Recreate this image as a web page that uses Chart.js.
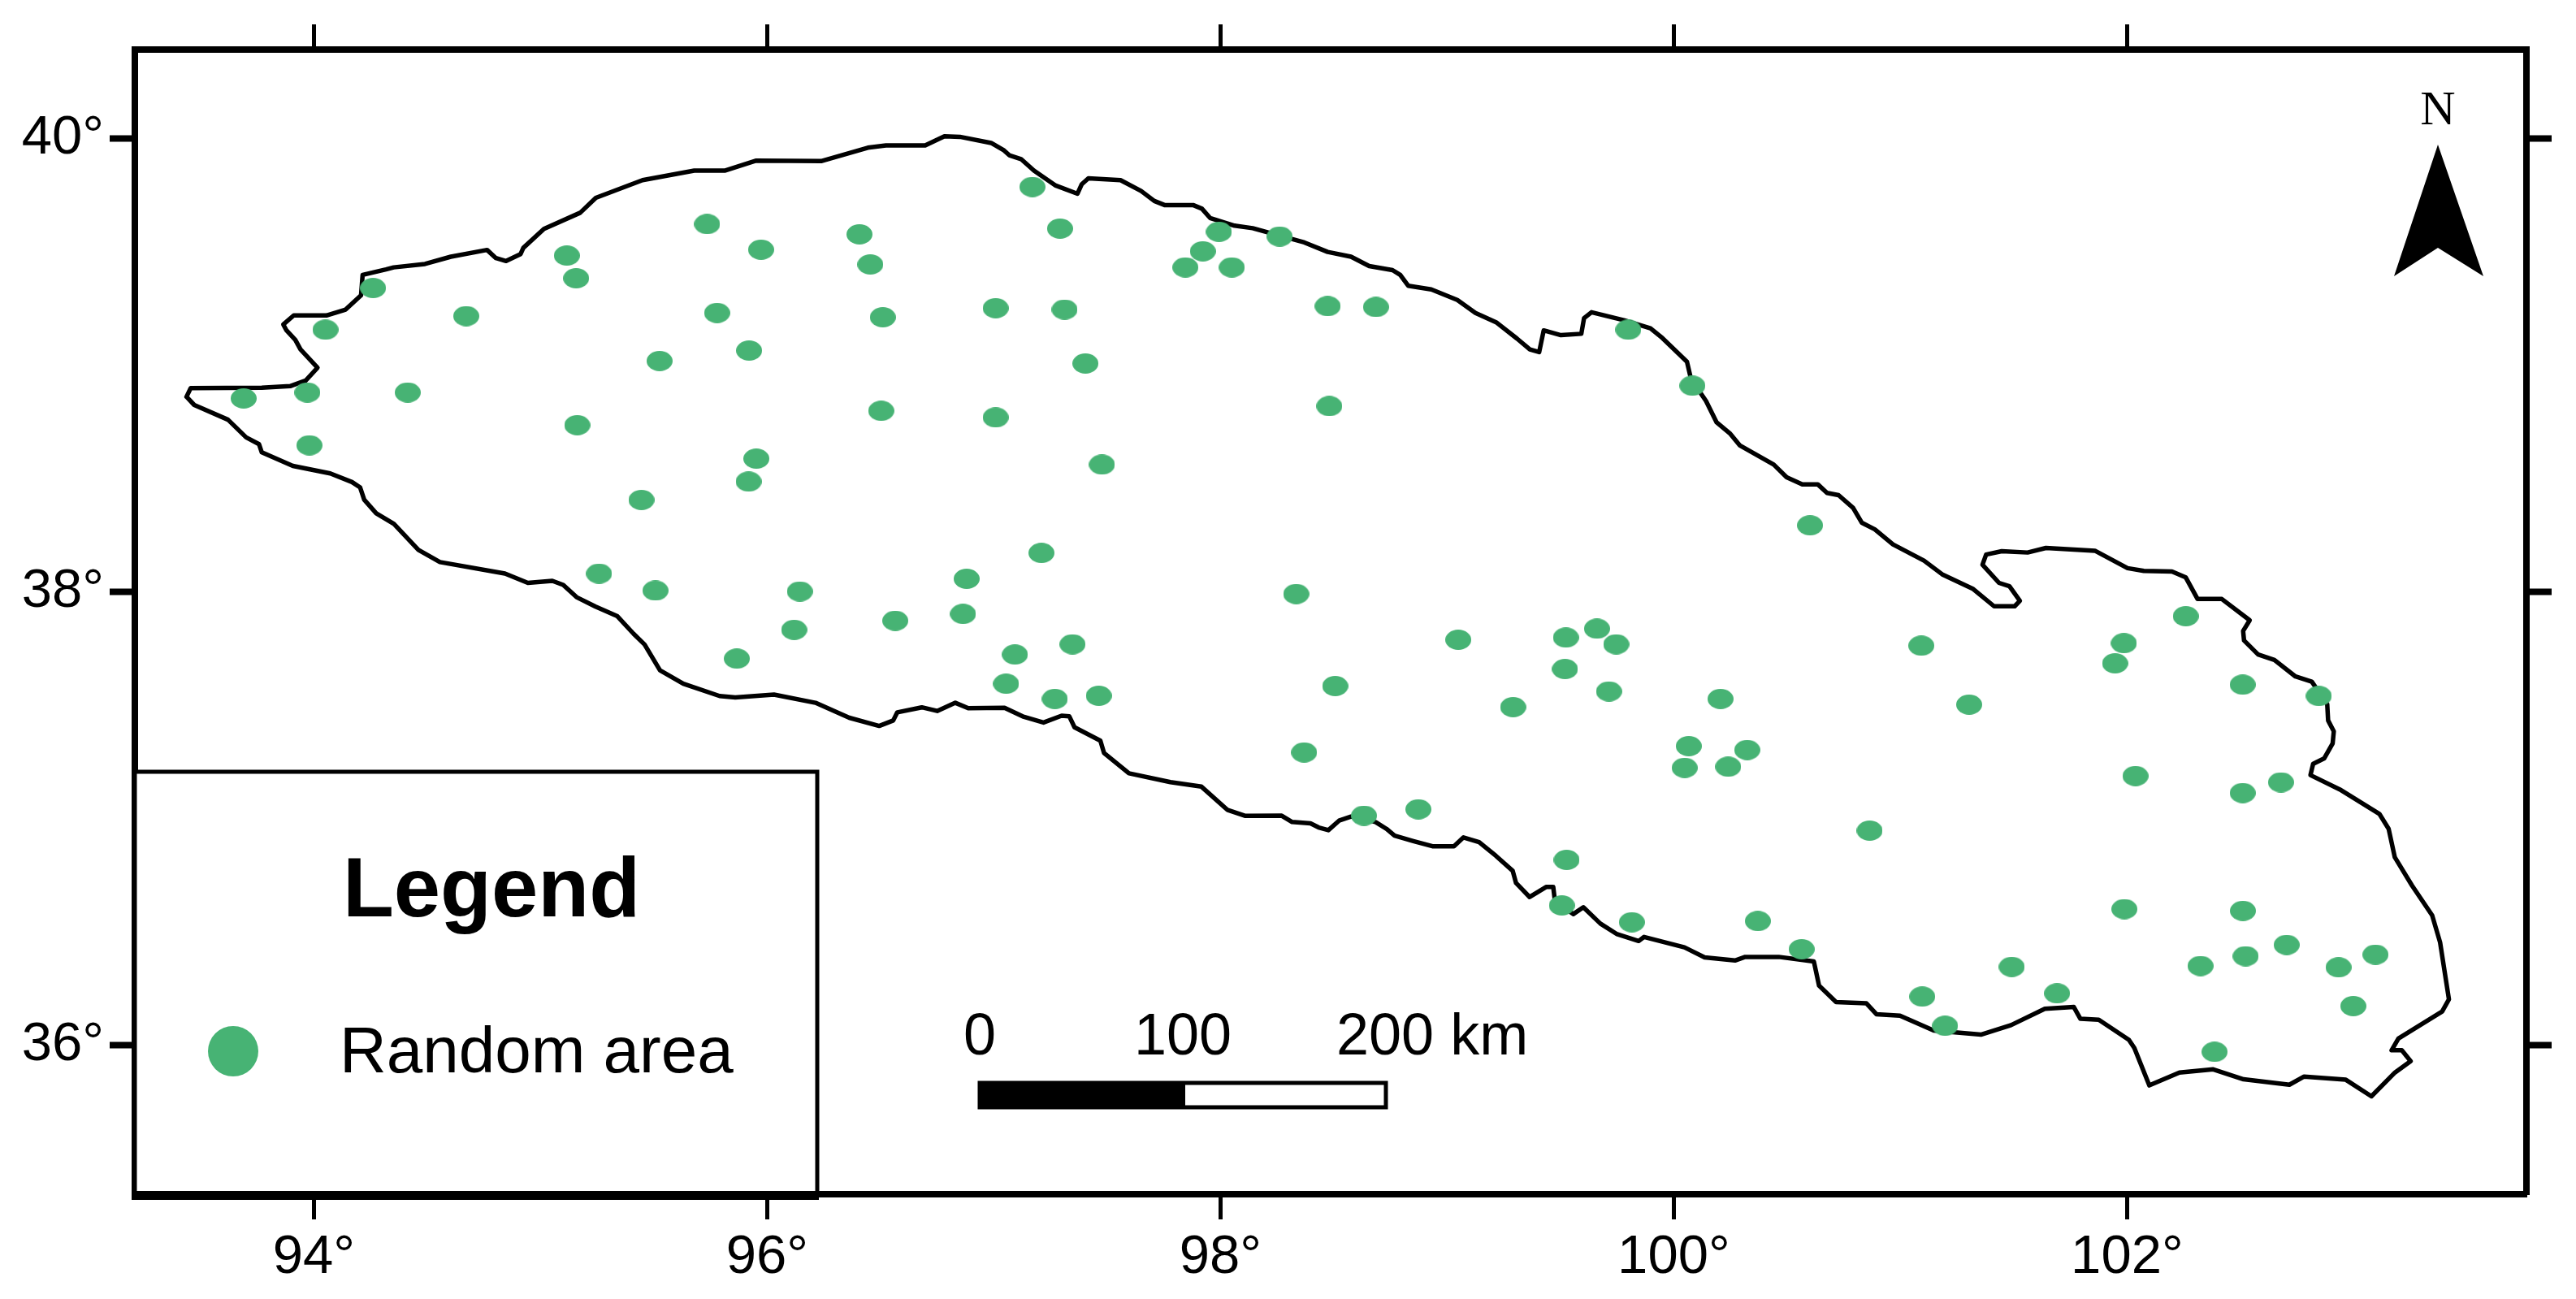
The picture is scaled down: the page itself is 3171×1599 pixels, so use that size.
<!DOCTYPE html>
<html>
<head>
<meta charset="utf-8">
<title>Random area map</title>
<script src="https://cdn.jsdelivr.net/npm/chart.js@4/dist/chart.umd.min.js"></script>
<style>
    html, body { margin: 0; padding: 0; background: #fff; }
    canvas { display: block; }
</style>
</head>
<body>
<canvas id="myChart" width="3171" height="1599"></canvas>
<script>
const xTicks = [94, 96, 98, 100, 102];
const yTicks = [36, 38, 40];

// outline of the basin, clockwise from the western tip
const borderLon = [93.438, 93.456, 93.770, 93.895, 93.964, 94.016, 93.941, 93.918, 93.879, 93.865, 93.911, 94.055, 94.140, 94.208, 94.215, 94.318, 94.352, 94.490, 94.604, 94.764, 94.803, 94.848, 94.912, 94.924, 95.015, 95.175, 95.244, 95.450, 95.678, 95.815, 95.952, 96.238, 96.444, 96.524, 96.697, 96.782, 96.850, 96.988, 97.045, 97.068, 97.120, 97.177, 97.273, 97.369, 97.388, 97.417, 97.559, 97.650, 97.708, 97.753, 97.879, 97.918, 97.954, 98.062, 98.142, 98.210, 98.370, 98.473, 98.576, 98.656, 98.759, 98.793, 98.828, 98.930, 99.045, 99.125, 99.216, 99.308, 99.365, 99.406, 99.426, 99.502, 99.592, 99.604, 99.637, 99.783, 99.897, 99.950, 100.058, 100.076, 100.142, 100.189, 100.247, 100.292, 100.441, 100.498, 100.567, 100.635, 100.676, 100.727, 100.791, 100.830, 100.887, 100.967, 101.104, 101.184, 101.321, 101.413, 101.504, 101.527, 101.481, 101.435, 101.362, 101.378, 101.447, 101.561, 101.642, 101.858, 102.002, 102.074, 102.198, 102.259, 102.311, 102.418, 102.541, 102.512, 102.516, 102.578, 102.650, 102.743, 102.815, 102.883, 102.887, 102.912, 102.907, 102.870, 102.821, 102.809, 102.938, 103.113, 103.154, 103.181, 103.257, 103.346, 103.381, 103.420, 103.390, 103.197, 103.167, 103.212, 103.251, 103.182, 103.078, 102.965, 102.781, 102.716, 102.514, 102.380, 102.231, 102.098, 102.032, 102.008, 101.875, 101.794, 101.765, 101.637, 101.488, 101.355, 101.147, 100.998, 100.894, 100.850, 100.716, 100.641, 100.618, 100.463, 100.315, 100.270, 100.136, 100.047, 99.869, 99.845, 99.750, 99.676, 99.601, 99.557, 99.476, 99.468, 99.438, 99.364, 99.304, 99.289, 99.215, 99.141, 99.072, 99.030, 98.935, 98.851, 98.768, 98.732, 98.684, 98.576, 98.523, 98.476, 98.433, 98.397, 98.316, 98.270, 98.110, 98.030, 97.916, 97.779, 97.596, 97.486, 97.470, 97.356, 97.333, 97.299, 97.219, 97.127, 97.047, 96.887, 96.830, 96.750, 96.682, 96.574, 96.556, 96.494, 96.362, 96.213, 96.030, 95.859, 95.790, 95.630, 95.527, 95.459, 95.410, 95.339, 95.243, 95.159, 95.100, 95.052, 94.944, 94.843, 94.556, 94.461, 94.353, 94.275, 94.222, 94.204, 94.168, 94.072, 93.907, 93.770, 93.758, 93.701, 93.621, 93.472, 93.438];
const borderLat = [38.859, 38.897, 38.899, 38.906, 38.931, 38.987, 39.068, 39.110, 39.152, 39.178, 39.218, 39.218, 39.244, 39.307, 39.397, 39.421, 39.430, 39.445, 39.477, 39.507, 39.471, 39.458, 39.489, 39.516, 39.600, 39.671, 39.737, 39.815, 39.857, 39.857, 39.901, 39.899, 39.958, 39.968, 39.968, 40.008, 40.006, 39.979, 39.946, 39.925, 39.908, 39.857, 39.791, 39.755, 39.797, 39.823, 39.815, 39.767, 39.723, 39.705, 39.705, 39.689, 39.648, 39.614, 39.603, 39.584, 39.540, 39.498, 39.477, 39.436, 39.418, 39.397, 39.349, 39.333, 39.286, 39.229, 39.188, 39.116, 39.068, 39.056, 39.152, 39.131, 39.137, 39.206, 39.232, 39.196, 39.161, 39.118, 39.014, 38.937, 38.841, 38.746, 38.698, 38.644, 38.560, 38.504, 38.473, 38.473, 38.435, 38.425, 38.369, 38.303, 38.274, 38.208, 38.136, 38.076, 38.011, 37.935, 37.935, 37.959, 38.023, 38.038, 38.118, 38.163, 38.178, 38.172, 38.192, 38.180, 38.103, 38.091, 38.088, 38.062, 37.967, 37.967, 37.873, 37.826, 37.784, 37.722, 37.698, 37.625, 37.602, 37.503, 37.431, 37.383, 37.330, 37.264, 37.240, 37.190, 37.127, 37.019, 36.953, 36.828, 36.703, 36.571, 36.452, 36.201, 36.147, 36.028, 35.976, 35.976, 35.928, 35.878, 35.773, 35.846, 35.860, 35.824, 35.848, 35.892, 35.878, 35.821, 35.986, 36.022, 36.111, 36.115, 36.167, 36.159, 36.087, 36.045, 36.063, 36.129, 36.135, 36.183, 36.189, 36.261, 36.368, 36.388, 36.388, 36.372, 36.386, 36.430, 36.476, 36.458, 36.488, 36.535, 36.607, 36.577, 36.631, 36.697, 36.697, 36.652, 36.714, 36.768, 36.834, 36.894, 36.915, 36.876, 36.876, 36.899, 36.923, 36.953, 36.983, 37.007, 36.989, 36.947, 36.959, 36.977, 36.983, 37.011, 37.010, 37.037, 37.139, 37.159, 37.198, 37.288, 37.342, 37.401, 37.449, 37.452, 37.422, 37.449, 37.487, 37.485, 37.509, 37.473, 37.489, 37.467, 37.431, 37.407, 37.443, 37.509, 37.545, 37.533, 37.539, 37.593, 37.652, 37.766, 37.814, 37.891, 37.933, 37.975, 38.029, 38.047, 38.038, 38.079, 38.130, 38.184, 38.298, 38.345, 38.405, 38.459, 38.483, 38.521, 38.554, 38.614, 38.650, 38.680, 38.758, 38.823, 38.859];

// random area sites
const siteLon = [93.690, 93.971, 94.414, 93.980, 94.051, 94.672, 94.261, 95.116, 95.157, 95.735, 95.973, 96.407, 96.455, 95.779, 96.510, 95.920, 95.525, 95.162, 96.503, 95.952, 95.918, 95.445, 97.170, 97.292, 97.993, 98.261, 97.922, 97.845, 98.050, 97.008, 97.312, 98.473, 98.686, 97.404, 97.008, 98.480, 97.477, 99.799, 100.082, 95.258, 95.507, 96.144, 96.119, 95.866, 96.565, 96.880, 96.864, 97.210, 97.093, 97.347, 97.054, 97.269, 97.463, 98.334, 98.369, 98.506, 100.601, 99.049, 99.524, 99.661, 99.746, 99.520, 99.714, 101.092, 99.291, 100.206, 101.303, 100.066, 100.324, 100.048, 100.240, 98.873, 98.633, 102.259, 101.986, 101.947, 102.510, 102.846, 102.037, 102.679, 102.510, 100.864, 99.527, 99.506, 99.815, 100.371, 100.564, 101.491, 101.096, 101.691, 101.197, 101.988, 102.511, 102.704, 102.523, 102.324, 102.933, 103.096, 102.998, 102.386];
const siteLat = [38.852, 38.878, 38.878, 38.645, 39.155, 39.215, 39.339, 39.482, 39.382, 39.621, 39.508, 39.576, 39.443, 39.229, 39.210, 39.063, 39.017, 38.734, 38.797, 38.586, 38.485, 38.404, 39.785, 39.601, 39.587, 39.566, 39.501, 39.430, 39.430, 39.250, 39.244, 39.259, 39.255, 39.006, 38.768, 38.818, 38.560, 39.155, 38.908, 38.079, 38.004, 38.000, 37.831, 37.704, 37.871, 38.056, 37.901, 38.170, 37.722, 37.767, 37.593, 37.526, 37.540, 37.989, 37.290, 37.583, 38.292, 37.787, 37.797, 37.836, 37.767, 37.658, 37.559, 37.761, 37.490, 37.526, 37.501, 37.318, 37.301, 37.222, 37.227, 37.039, 37.011, 37.891, 37.772, 37.683, 37.589, 37.539, 37.186, 37.158, 37.111, 36.945, 36.816, 36.615, 36.541, 36.546, 36.422, 36.344, 36.213, 36.227, 36.084, 36.599, 36.591, 36.441, 36.391, 36.348, 36.342, 36.398, 36.171, 35.969];

const legendTitle = "Legend";
const legendLabel = "Random area";
const scaleLabels = ["0", "100", "200 km"];
const green = "#47B374";

// sites are slightly wider than tall in the picture
const makeSiteMarker = () => {
    const marker = document.createElement("canvas");
    marker.width = 32;
    marker.height = 25;
    const mctx = marker.getContext("2d");
    mctx.fillStyle = green;
    mctx.beginPath();
    mctx.ellipse(16, 12.5, 16, 12.5, 0, 0, Math.PI * 2);
    mctx.fill();
    return marker;
};

const tickScale = (position, ticksList, size, tickWidth, showLabels, min, max) => ({
    type: "linear",
    axis: position === "top" || position === "bottom" ? "x" : "y",
    position: position,
    min: min,
    max: max,
    afterBuildTicks: (axis) => {
        axis.ticks = ticksList.map((value) => ({value: value}));
    },
    afterFit: (axis) => {
        if (axis.isHorizontal()) {
            axis.height = size;
        } else {
            axis.width = size;
        }
    },
    grid: {
        drawOnChartArea: false,
        drawTicks: true,
        tickLength: 31,
        tickWidth: tickWidth,
        tickColor: "#000",
        color: "#000"
    },
    border: {
        display: true,
        color: "#000",
        width: 8
    },
    ticks: {
        display: showLabels,
        autoSkip: false,
        maxRotation: 0,
        padding: 7,
        color: "#000",
        font: {
            family: "'Liberation Sans', Arial, sans-serif",
            size: 67
        },
        callback: (value) => value + "\u00B0"
    }
});

// legend box, scale bar and north arrow sit on top of the map frame
const mapDecorations = {
    id: "mapDecorations",
    afterDraw: (chart) => {
        const ctx = chart.ctx;
        ctx.save();

        ctx.strokeStyle = "#000";
        ctx.fillStyle = "#fff";
        ctx.lineWidth = 5;
        ctx.fillRect(166, 950, 840, 520);
        ctx.strokeRect(166, 950, 840, 520);
        ctx.fillStyle = "#000";
        ctx.fillRect(162, 1466, 846, 11);

        ctx.textBaseline = "alphabetic";
        ctx.textAlign = "center";
        ctx.font = "bold 103px 'Liberation Sans', Arial, sans-serif";
        ctx.fillText(legendTitle, 605, 1128);

        ctx.fillStyle = green;
        ctx.beginPath();
        ctx.ellipse(287, 1294, 31, 31, 0, 0, Math.PI * 2);
        ctx.fill();

        ctx.fillStyle = "#000";
        ctx.textAlign = "left";
        ctx.font = "80px 'Liberation Sans', Arial, sans-serif";
        ctx.fillText(legendLabel, 418, 1320);

        // scale bar
        ctx.font = "72px 'Liberation Sans', Arial, sans-serif";
        ctx.textAlign = "center";
        ctx.fillText(scaleLabels[0], 1206, 1298);
        ctx.fillText(scaleLabels[1], 1456, 1298);
        ctx.textAlign = "left";
        ctx.fillText(scaleLabels[2], 1645, 1298);
        ctx.fillRect(1204, 1331, 255, 34);
        ctx.lineWidth = 5;
        ctx.strokeRect(1206, 1333, 500, 30);

        // north arrow
        ctx.textAlign = "center";
        ctx.font = "60px 'Liberation Serif', 'Times New Roman', serif";
        ctx.fillText("N", 3001, 153);
        ctx.beginPath();
        ctx.moveTo(3001, 178);
        ctx.lineTo(3057, 340);
        ctx.lineTo(3001, 305);
        ctx.lineTo(2947, 340);
        ctx.closePath();
        ctx.fill();

        ctx.restore();
    }
};

const ctx = document.getElementById("myChart").getContext("2d");
const myChart = new Chart(ctx, {
    type: "scatter",
    data: {
        datasets: [
            {
                label: "Random area",
                data: siteLon.map((lon, i) => ({x: lon, y: siteLat[i]})),
                pointStyle: makeSiteMarker(),
                pointRadius: 16,
                showLine: false,
                order: 0
            },
            {
                label: "Boundary",
                data: borderLon.map((lon, i) => ({x: lon, y: borderLat[i]})),
                showLine: true,
                borderColor: "#000",
                borderWidth: 5.5,
                borderJoinStyle: "round",
                borderCapStyle: "round",
                pointRadius: 0,
                tension: 0,
                order: 1
            }
        ]
    },
    options: {
        responsive: false,
        devicePixelRatio: 1,
        animation: false,
        layout: {padding: 0},
        scales: {
            x: tickScale("bottom", xTicks, 129, 5, true, 93.21, 103.762),
            xTop: tickScale("top", xTicks, 61, 5, false, 93.21, 103.762),
            y: tickScale("left", yTicks, 166, 8, true, 35.341, 40.391),
            yRight: tickScale("right", yTicks, 61, 8, false, 35.341, 40.391)
        },
        plugins: {
            legend: {display: false},
            tooltip: {enabled: false},
            title: {display: false}
        }
    },
    plugins: [mapDecorations]
});
</script>
</body>
</html>
